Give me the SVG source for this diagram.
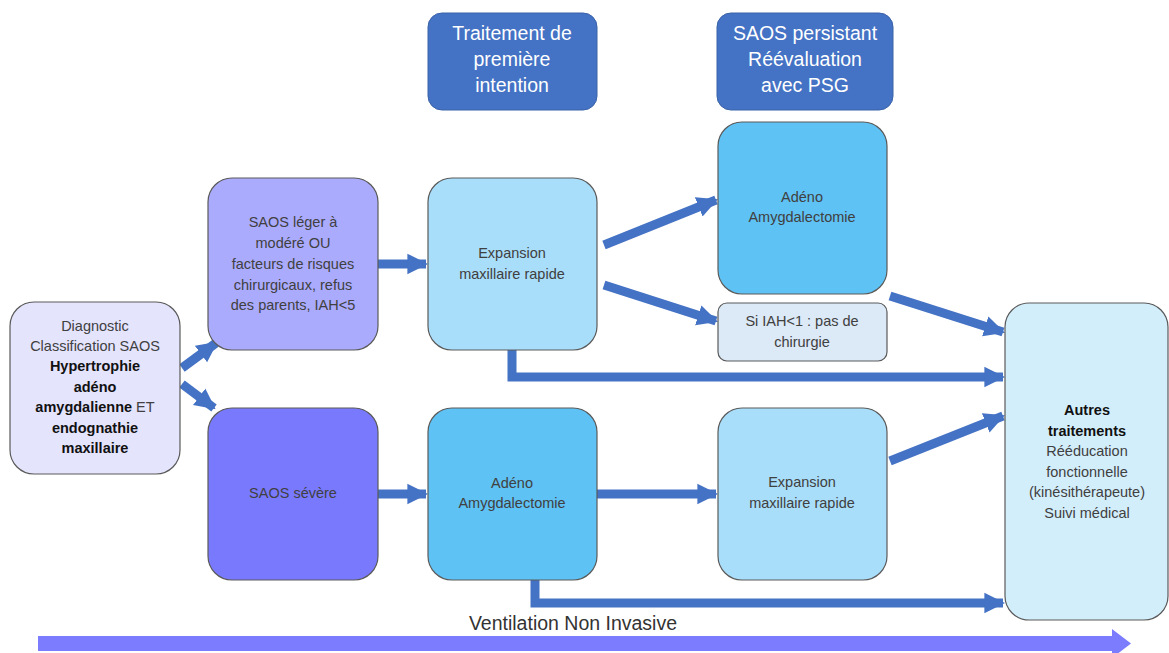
<svg xmlns="http://www.w3.org/2000/svg" width="1169" height="653" viewBox="0 0 1169 653">
<style>
.box{stroke:#5a5a5a;stroke-width:1.2}
.hdr{fill:#4472C4;stroke:#3a62a8;stroke-width:1}
.t{font-family:"Liberation Sans",Arial,sans-serif;font-size:14.5px;fill:#404040;text-anchor:middle}
.b{font-weight:bold;fill:#111}
.h{font-family:"Liberation Sans",Arial,sans-serif;font-size:19.5px;fill:#fff;text-anchor:middle}
.c{fill:none;stroke:#4472C4;stroke-width:9}
</style>
<defs>
<marker id="ah" viewBox="0 0 10 10" refX="9" refY="5" markerWidth="2.3" markerHeight="2.5" orient="auto" markerUnits="strokeWidth">
<path d="M0,0 L10,5 L0,10 Z" fill="#4472C4"/>
</marker>
</defs>
<rect width="1169" height="653" fill="#fff"/>

<g id="connectors">
<path class="c" d="M182,368 L216,343" marker-end="url(#ah)"/>
<path class="c" d="M182,384 L214,408" marker-end="url(#ah)"/>
<path class="c" d="M378,264 L426,264" marker-end="url(#ah)"/>
<path class="c" d="M604,245 L716,200" marker-end="url(#ah)"/>
<path class="c" d="M604,285 L716,321" marker-end="url(#ah)"/>
<path class="c" d="M512,350 L512,377 L1003,377" marker-end="url(#ah)"/>
<path class="c" d="M890,296 L1003,332" marker-end="url(#ah)"/>
<path class="c" d="M890,461 L1003,416" marker-end="url(#ah)"/>
<path class="c" d="M378,494 L426,494" marker-end="url(#ah)"/>
<path class="c" d="M597,494 L716,494" marker-end="url(#ah)"/>
<path class="c" d="M535,580 L535,603 L1003,603" marker-end="url(#ah)"/>
</g>

<g id="hdr1">
<rect class="hdr" x="428" y="13" width="169" height="97" rx="14"/>
<text class="h" x="512" y="40">Traitement de</text>
<text class="h" x="512" y="66">première</text>
<text class="h" x="512" y="92">intention</text>
</g>
<g id="hdr2">
<rect class="hdr" x="717" y="13" width="176" height="97" rx="14"/>
<text class="h" x="805" y="40">SAOS persistant</text>
<text class="h" x="805" y="66">Réévaluation</text>
<text class="h" x="805" y="92">avec PSG</text>
</g>

<g id="diag">
<rect class="box" x="10" y="302" width="170" height="172" rx="24" fill="#E4E4FD"/>
<text class="t" x="95" y="331">Diagnostic</text>
<text class="t" x="95" y="351">Classification SAOS</text>
<text class="t b" x="95" y="371">Hypertrophie</text>
<text class="t b" x="95" y="392">adéno</text>
<text class="t" x="95" y="412"><tspan class="b">amygdalienne</tspan> ET</text>
<text class="t b" x="95" y="433">endognathie</text>
<text class="t b" x="95" y="453">maxillaire</text>
</g>

<g id="leger">
<rect class="box" x="208" y="178" width="170" height="172" rx="24" fill="#ABABFE"/>
<text class="t" x="293" y="227">SAOS léger à</text>
<text class="t" x="293" y="248">modéré OU</text>
<text class="t" x="293" y="269">facteurs de risques</text>
<text class="t" x="293" y="290">chirurgicaux, refus</text>
<text class="t" x="293" y="310">des parents, IAH&lt;5</text>
</g>

<g id="severe">
<rect class="box" x="208" y="408" width="170" height="172" rx="24" fill="#7979FD"/>
<text class="t" x="293" y="498">SAOS sévère</text>
</g>

<g id="exp1">
<rect class="box" x="428" y="178" width="169" height="172" rx="24" fill="#A9DEFA"/>
<text class="t" x="512" y="258">Expansion</text>
<text class="t" x="512" y="279">maxillaire rapide</text>
</g>

<g id="adeno2">
<rect class="box" x="428" y="408" width="169" height="172" rx="24" fill="#5FC2F4"/>
<text class="t" x="512" y="488">Adéno</text>
<text class="t" x="512" y="508">Amygdalectomie</text>
</g>

<g id="adeno1">
<rect class="box" x="718" y="122" width="169" height="172" rx="24" fill="#5FC2F4"/>
<text class="t" x="802" y="202">Adéno</text>
<text class="t" x="802" y="222">Amygdalectomie</text>
</g>

<g id="siiah">
<rect class="box" x="718" y="303" width="169" height="58" rx="9" fill="#DCE9F6"/>
<text class="t" x="802" y="326">Si IAH&lt;1 : pas de</text>
<text class="t" x="802" y="347">chirurgie</text>
</g>

<g id="exp2">
<rect class="box" x="718" y="408" width="169" height="172" rx="24" fill="#A9DEFA"/>
<text class="t" x="802" y="487">Expansion</text>
<text class="t" x="802" y="508">maxillaire rapide</text>
</g>

<g id="autres">
<rect class="box" x="1005" y="303" width="163" height="317" rx="24" fill="#D3EEFB"/>
<text class="t b" x="1087" y="415">Autres</text>
<text class="t b" x="1087" y="436">traitements</text>
<text class="t" x="1087" y="456">Rééducation</text>
<text class="t" x="1087" y="477">fonctionnelle</text>
<text class="t" x="1087" y="497">(kinésithérapeute)</text>
<text class="t" x="1087" y="518">Suivi médical</text>
</g>

<g id="vni">
<polygon points="38,636 1112,636 1112,629 1131,643.5 1112,658 1112,651 38,651" fill="#7B7CFE"/>
<text x="573" y="630" style="font-family:'Liberation Sans',Arial,sans-serif;font-size:19.5px;fill:#333;text-anchor:middle">Ventilation Non Invasive</text>
</g>
</svg>
